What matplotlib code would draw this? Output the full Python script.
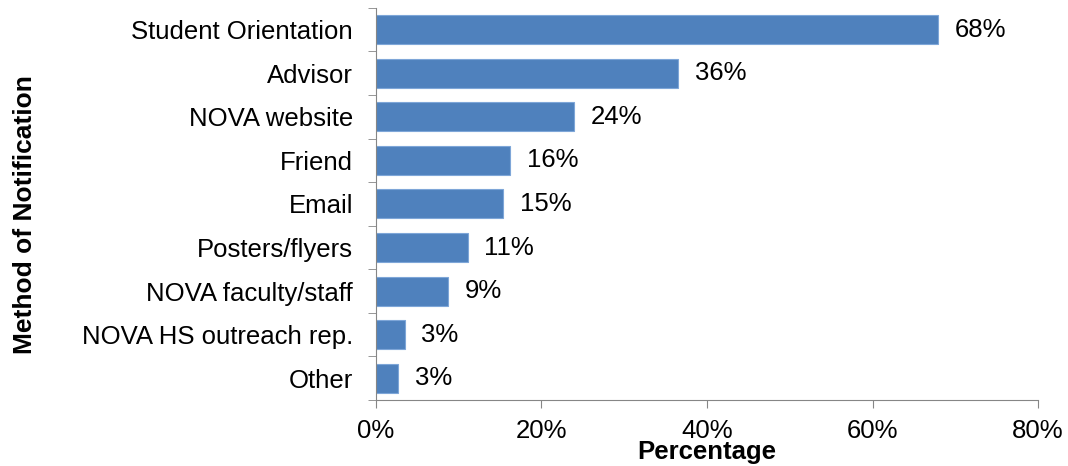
import matplotlib.pyplot as plt
import numpy as np

plt.rcParams["font.family"] = ["Liberation Sans", "DejaVu Sans"]

methods = ["Student Orientation", "Advisor", "NOVA website", "Friend", "Email",
           "Posters/flyers", "NOVA faculty/staff", "NOVA HS outreach rep.", "Other"]
pct = [67.9, 36.5, 23.9, 16.2, 15.4, 11.1, 8.7, 3.5, 2.7]
labels = ["68%", "36%", "24%", "16%", "15%", "11%", "9%", "3%", "3%"]

fig = plt.figure(figsize=(10.68, 4.66), dpi=100)
ax = fig.add_axes([0.352, 0.1416, 0.620, 0.8414])

y = np.arange(len(methods))[::-1]
ax.barh(y, pct, height=0.665, color="#4F81BD", edgecolor="#7EA6D8", linewidth=0.8)
for yi, v, lab in zip(y, pct, labels):
    ax.text(v + 2.0, yi, lab, va="center", ha="left", fontsize=18.5)

ax.set_xlim(0, 80)
ax.set_ylim(-0.5, len(methods) - 0.5)
ax.set_xticks([0, 20, 40, 60, 80])
ax.set_xticklabels(["0%", "20%", "40%", "60%", "80%"], fontsize=18.5)
ax.set_yticks(y)
ax.set_yticklabels(methods, fontsize=18.5)
ax.set_yticks(np.arange(-0.5, len(methods), 1), minor=True)
ax.tick_params(axis="y", which="major", length=0, pad=16.5)
ax.tick_params(axis="y", which="minor", length=6, color="#868686", direction="out")
ax.tick_params(axis="x", length=6, color="#868686", direction="out", pad=8)

for s in ["top", "right"]:
    ax.spines[s].set_visible(False)
ax.spines["left"].set_color("#868686")
ax.spines["bottom"].set_color("#868686")

fig.text(0.662, 0.014, "Percentage", fontsize=18.5, fontweight="bold",
         ha="center", va="baseline")
fig.text(0.023, 0.539, "Method of Notification", rotation=90, fontsize=19,
         fontweight="bold", va="center", ha="center")

plt.savefig("out.png", dpi=100)
plt.close()
